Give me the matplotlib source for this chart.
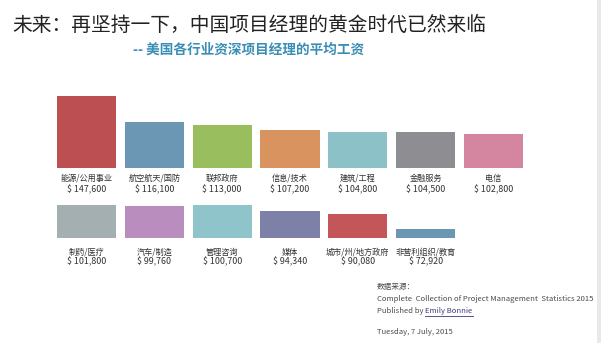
import matplotlib
matplotlib.use("Agg")
import matplotlib.pyplot as plt
from matplotlib.transforms import blended_transform_factory
from matplotlib.patches import Rectangle
from matplotlib.lines import Line2D

plt.rcParams['font.family'] = ['Noto Sans CJK SC', 'DejaVu Sans']

# Row 1
cats_top = ["能源/公用事业", "航空航天/国防", "联邦政府", "信息/技术", "建筑/工程", "金融服务", "电信"]
vals_top = [147600, 116100, 113000, 107200, 104800, 104500, 102800]
colors_top = ["#BC4F52", "#6B96B4", "#99BE5E", "#D9935E", "#8DC1C8", "#8E8D91", "#D486A0"]

# Row 2
cats_bot = ["制药/医疗", "汽车/制造", "管理咨询", "媒体", "城市/州/地方政府", "非营利组织/教育"]
vals_bot = [101800, 99760, 100700, 94340, 90080, 72920]
colors_bot = ["#A3AFB1", "#B98EBF", "#8EC4CA", "#7D80A7", "#C4565A", "#6B96B4"]

title = "未来：再坚持一下，中国项目经理的黄金时代已然来临"
subtitle = "-- 美国各行业资深项目经理的平均工资"
source_lines = ["数据来源：",
                "Complete  Collection of Project Management  Statistics 2015",
                "Published by ", "Emily Bonnie",
                "Tuesday, 7 July, 2015"]

W, H = 601, 343
fig = plt.figure(figsize=(W / 100, H / 100), dpi=100)
fig.patch.set_facecolor("white")

base = 62000
top = 147600


def px_axes(left, bottom_from_top, width, height):
    return fig.add_axes([left / W, (H - bottom_from_top) / H, width / W, height / H])


def draw_row(ax, cats, vals, colors, off_cat, off_val):
    x = list(range(len(cats)))
    ax.bar(x, vals, width=0.87, color=colors, bottom=0, edgecolor="none")
    ax.set_xlim(-0.5, 6.5)
    ax.set_ylim(base, top)
    ax.axis("off")
    tr = blended_transform_factory(ax.transData, ax.transAxes)
    for xi, c, v in zip(x, cats, vals):
        ax.annotate(c, (xi, 0), xycoords=tr, xytext=(0, -off_cat), textcoords="offset points",
                    ha="center", va="center", fontsize=5.9, color="#333333")
        ax.annotate("$ {:,}".format(v), (xi, 0), xycoords=tr, xytext=(0, -off_val),
                    textcoords="offset points", ha="center", va="center",
                    fontsize=6.4, color="#333333")


ax1 = px_axes(52.6, 168, 474.8, 72)
draw_row(ax1, cats_top, vals_top, colors_top, 7.5, 15.5)
ax2 = px_axes(52.6, 238, 474.8, 72)
draw_row(ax2, cats_bot, vals_bot, colors_bot, 10.3, 17.3)

fig.text(12 / W, 1 - 25 / H, title, fontsize=14.2, color="#222222", ha="left", va="center")
fig.text(133 / W, 1 - 50 / H, subtitle, fontsize=9.8, color="#3A8DB5", ha="left",
         va="center", fontweight="bold")

fs = 5.5
col = "#4A4A4A"
fig.text(377 / W, 1 - 287 / H, source_lines[0], fontsize=fs, color=col, va="center")
fig.text(377 / W, 1 - 299 / H, source_lines[1], fontsize=fs, color=col, va="center")
t = fig.text(377 / W, 1 - 311 / H, source_lines[2], fontsize=fs, color=col, va="center")
fig.canvas.draw()
bb = t.get_window_extent()
t2 = fig.text(bb.x1 / W, 1 - 311 / H, source_lines[3], fontsize=fs, color="#3B3B7A",
              va="center")
fig.canvas.draw()
bb2 = t2.get_window_extent()
yl = (H - 315.5) / H
fig.lines.append(Line2D([bb2.x0 / W, bb2.x1 / W], [yl, yl], transform=fig.transFigure,
                        color="#3B3B7A", linewidth=0.6))
fig.text(377 / W, 1 - 332 / H, source_lines[4], fontsize=fs, color=col, va="center")

# light strip at the right edge
fig.patches.append(Rectangle((597 / W, 0), 4 / W, 1, transform=fig.transFigure,
                             facecolor="#E9E9E9", edgecolor="none"))

fig.savefig("out.png", dpi=100)
